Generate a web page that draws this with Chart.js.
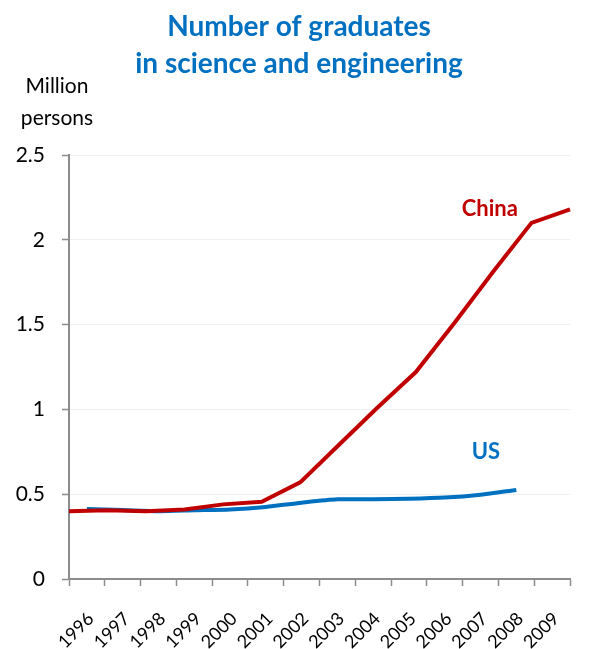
<!DOCTYPE html>
<html>
<head>
<meta charset="utf-8">
<script src="https://cdn.jsdelivr.net/npm/chart.js@4.4.1/dist/chart.umd.min.js"></script>
<style>
  html, body { margin: 0; padding: 0; background: #fff; }
  #wrap { width: 591px; height: 649px; position: relative; }
</style>
</head>
<body>
<div id="wrap"><canvas id="gradChart"></canvas></div>
<script>
// values (million persons)
const years = ['1996', '1997', '1998', '1999', '2000', '2001', '2002', '2003', '2004', '2005', '2006', '2007', '2008', '2009'];
const china = [0.40, 0.405, 0.40, 0.41, 0.44, 0.455, 0.57, 0.79, 1.01, 1.22, 1.51, 1.81, 2.10, 2.18];
const us = [0.413, 0.407, 0.40, 0.405, 0.41, 0.425, 0.45, 0.47, 0.47, 0.473, 0.48, 0.497, 0.525, null];
const yTicks = [0, 0.5, 1, 1.5, 2, 2.5];

const FONT = 'Lato, "Open Sans", sans-serif';
const BLUE = '#0070C0';
const RED = '#C00000';

// titles and series names drawn straight on the canvas
const textPlugin = {
    id: 'texts',
    afterDraw(chart) {
        const ctx = chart.ctx;
        const x = chart.scales.x;
        const y = chart.scales.y;
        ctx.save();
        ctx.textAlign = 'center';
        ctx.textBaseline = 'alphabetic';

        ctx.fillStyle = BLUE;
        ctx.font = 'bold 28px ' + FONT;
        ctx.fillText('Number of graduates', 299, 36);
        ctx.fillText('in science and engineering', 299, 73);

        ctx.fillStyle = '#000';
        ctx.font = '21px ' + FONT;
        ctx.fillText('Million', 57, 93);
        ctx.fillText('persons', 57, 125);

        ctx.font = 'bold 22px ' + FONT;
        ctx.textBaseline = 'middle';
        ctx.fillStyle = RED;
        ctx.fillText('China', x.getPixelForValue(11.26), y.getPixelForValue(2.18));
        ctx.fillStyle = BLUE;
        ctx.fillText('US', x.getPixelForValue(11.15), y.getPixelForValue(0.75));
        ctx.restore();
    }
};

const ctx = document.getElementById('gradChart').getContext('2d');
new Chart(ctx, {
    type: 'line',
    data: {
        labels: years,
        datasets: [{
            label: 'China',
            data: china,
            xAxisID: 'x2',
            borderColor: RED,
            borderWidth: 4,
            pointRadius: 0,
            tension: 0
        }, {
            label: 'US',
            data: us,
            xAxisID: 'x',
            borderColor: BLUE,
            borderWidth: 4,
            pointRadius: 0,
            tension: 0.25,
            spanGaps: false
        }]
    },
    options: {
        responsive: true,
        maintainAspectRatio: false,
        animation: false,
        layout: { padding: { top: 155, left: 0, right: 21, bottom: 0 } },
        plugins: {
            legend: { display: false },
            tooltip: { enabled: false }
        },
        scales: {
            x: {
                type: 'category',
                offset: true,
                grid: { display: true, drawOnChartArea: false, offset: true, tickLength: 7, tickColor: '#8c8c8c', tickWidth: 1.5 },
                border: { color: '#8c8c8c', width: 2 },
                ticks: {
                    minRotation: 45, maxRotation: 45, padding: 22, labelOffset: 4, autoSkip: false,
                    color: '#000', font: { family: FONT, size: 18 }
                },
                afterFit(scale) {
                    scale.height = 70;
                    scale.paddingLeft = 0;
                    scale.paddingRight = 0;
                }
            },
            x2: {
                type: 'category',
                offset: false,
                display: false
            },
            y: {
                min: 0,
                max: 2.5,
                afterBuildTicks(scale) { scale.ticks = yTicks.map(v => ({ value: v })); },
                grid: { color: '#efefef', lineWidth: 1, tickLength: 7, tickColor: '#8c8c8c', tickWidth: 1.5 },
                border: { color: '#8c8c8c', width: 2 },
                ticks: {
                    padding: 17, color: '#000', font: { family: FONT, size: 21 },
                    callback: v => String(v)
                },
                afterFit(scale) { scale.width = 69; }
            }
        }
    },
    plugins: [textPlugin]
});
</script>
</body>
</html>
